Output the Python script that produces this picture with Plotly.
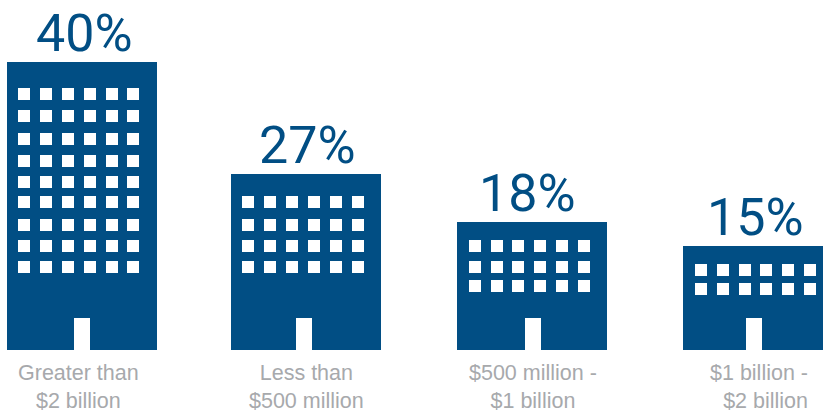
import plotly.graph_objects as go

categories = ["Greater than<br>$2 billion", "Less than<br>$500 million", "$500 million -<br>$1 billion", "$1 billion -<br>$2 billion"]
shares = ["40%", "27%", "18%", "15%"]
# building outline (arbitrary height units above ground)
building_centres = [82, 306, 532, 758]
building_heights = [288, 176, 128, 104]
door_centres = [82, 304, 533, 754]
door_height = 32
window_columns = [
    [24, 46, 68, 90, 112, 133],
    [248, 270, 292, 314, 336, 358],
    [475, 497, 518, 540, 562, 584],
    [701, 723, 745, 766, 788, 810],
]
window_rows = [
    [256, 234, 211, 189, 168, 148, 125, 104, 83],
    [148, 125, 104, 83],
    [104, 83, 64],
    [80, 61],
]
share_label_x = [84, 307, 527, 755]
category_label_x = [78, 306, 533, 759]

BLUE = "#014e84"
GREY = "#a7a9ac"
FONT = "Liberation Sans"

fig = go.Figure()
fig.add_bar(x=building_centres, y=building_heights, width=150, marker=dict(color=BLUE, line_width=0), hoverinfo="skip")
fig.add_bar(x=door_centres, y=[door_height] * 4, width=16, marker=dict(color="white", line_width=0), hoverinfo="skip")

win_x, win_y = [], []
for cols, rows in zip(window_columns, window_rows):
    for r in rows:
        for c in cols:
            win_x.append(c)
            win_y.append(r)
fig.add_scatter(x=win_x, y=win_y, mode="markers", cliponaxis=True,
                marker=dict(symbol="square", size=12, color="white", line_width=0), hoverinfo="skip")

for lx, h, s in zip(share_label_x, building_heights, shares):
    fig.add_annotation(x=lx, y=h, text=s, showarrow=False, xanchor="center", yanchor="bottom", yshift=-4,
                       font=dict(family="Roboto", size=52, color=BLUE))
for i, (lx, c) in enumerate(zip(category_label_x, categories)):
    fig.add_annotation(x=lx, y=0, text=c, showarrow=False, xanchor="center", yanchor="top", yshift=-9,
                       align="right" if i == 3 else "center",
                       font=dict(family=FONT, size=21.5, color=GREY))

fig.update_layout(
    width=823, height=413, margin=dict(l=0, r=0, t=0, b=0),
    paper_bgcolor="white", plot_bgcolor="white", showlegend=False, barmode="overlay",
    xaxis=dict(range=[0, 823], visible=False, fixedrange=True),
    yaxis=dict(range=[-63, 350], visible=False, fixedrange=True),
)
fig.write_html("out.html", config={"displayModeBar": False},
               post_script="document.body.style.margin='0';document.body.style.overflow='hidden';")
